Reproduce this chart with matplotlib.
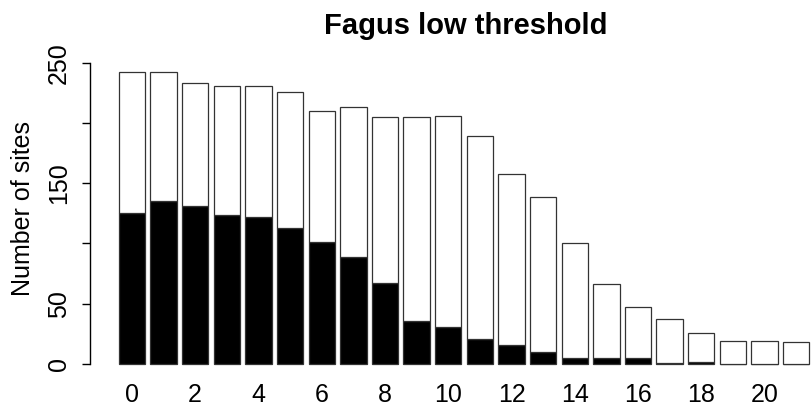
import numpy as np
import matplotlib
matplotlib.use("Agg")
import matplotlib.pyplot as plt

# number of sites per class: black = lower part, total = full bar height
classes = list(range(22))
total = [242, 242, 233, 231, 231, 226, 210, 213, 205, 205, 206, 189,
         158, 139, 100, 66, 47, 37, 26, 19, 19, 18]
black = [125, 135, 131, 124, 122, 113, 101, 89, 67, 36, 31, 21,
         16, 10, 5, 5, 5, 1, 2, 0, 0, 0]
x_labels = [str(c) if c % 2 == 0 else "" for c in classes]
y_ticks = [0, 50, 100, 150, 200, 250]
y_labels = ["0", "50", "", "150", "", "250"]

plt.rcParams["font.family"] = ["Liberation Sans", "DejaVu Sans"]

W, H = 812, 408
fig = plt.figure(figsize=(W / 100, H / 100), dpi=100)

# axes box in pixels (plot region runs past the right edge, like the cropped original)
left_px, right_px, top_px, bottom_px = 90, 837, 50, 380
ax = fig.add_axes([left_px / W, 1 - bottom_px / H,
                   (right_px - left_px) / W, (bottom_px - top_px) / H])

x = np.array(classes)
tot = np.array(total)
blk = np.array(black)
width = 1 / 1.2

ax.bar(x, blk, width=width, color="black", edgecolor="#333333", linewidth=0.9)
ax.bar(x, tot - blk, bottom=blk, width=width, color="white",
       edgecolor="#333333", linewidth=0.9)

ax.set_xlim(-1.325, 22.29)
ax.set_ylim(-13.28, 260.58)

for s in ["top", "right", "bottom"]:
    ax.spines[s].set_visible(False)
ax.spines["left"].set_bounds(0, 250)
ax.spines["left"].set_linewidth(1.0)

ax.set_yticks(y_ticks)
ax.set_yticklabels(y_labels, rotation=90, va="center", fontsize=18)
ax.tick_params(axis="y", direction="out", length=5.8, width=1.0, pad=8)

ax.set_xticks(x)
ax.set_xticklabels(x_labels, fontsize=18)
ax.tick_params(axis="x", length=0, pad=2)

fig.text(23 / W, 1 - 209 / H, "Number of sites", rotation=90,
         ha="center", va="center", fontsize=18)
fig.text(466 / W, 1 - 26 / H, "Fagus low threshold", ha="center",
         va="center", fontsize=21, fontweight="bold")

fig.savefig("out.png", dpi=100)
